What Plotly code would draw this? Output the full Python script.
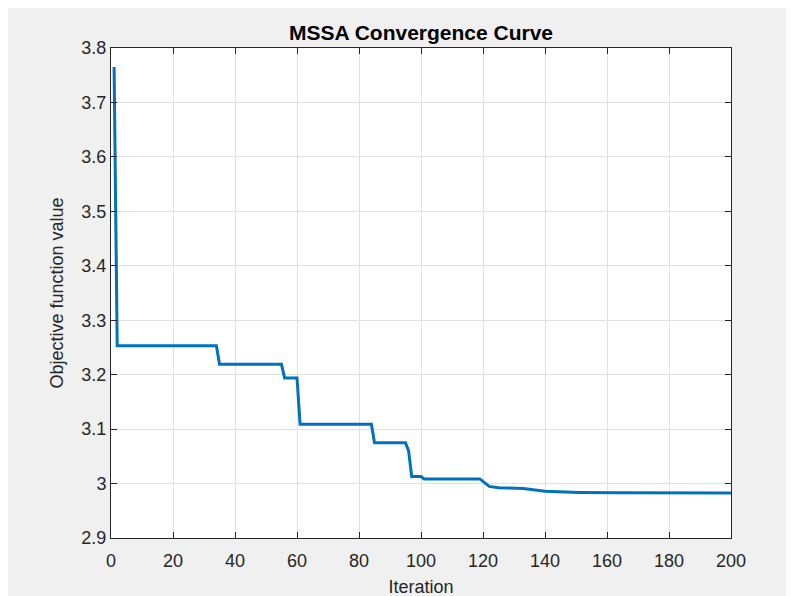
import plotly.graph_objects as go

# Change points of the convergence curve (iteration, best objective value)
iterations = [1, 2, 34, 35, 55, 56, 60, 61, 84, 85, 95, 96, 97, 100, 101, 119,
              122, 125, 133, 136, 140, 151, 165, 200]
values = [3.765, 3.253, 3.253, 3.219, 3.219, 3.194, 3.194, 3.109, 3.109, 3.075,
          3.075, 3.060, 3.013, 3.013, 3.0085, 3.0085,
          2.9947, 2.9925, 2.9907, 2.9885, 2.9858, 2.9838, 2.9830, 2.9828]

x_ticks = [0, 20, 40, 60, 80, 100, 120, 140, 160, 180, 200]
y_ticks = [2.9, 3.0, 3.1, 3.2, 3.3, 3.4, 3.5, 3.6, 3.7, 3.8]
y_tick_text = ["2.9", "3", "3.1", "3.2", "3.3", "3.4", "3.5", "3.6", "3.7", "3.8"]

title_text = "MSSA Convergence Curve"
x_label = "Iteration"
y_label = "Objective function value"

FONT = "Liberation Sans, Arial, Helvetica, sans-serif"
AX = "#262626"
GRID = "#e0e0e0"

L, R, T, B = 103, 71, 40, 66
W, H = 794, 596
pw, ph = W - L - R, H - T - B

fig = go.Figure()
fig.add_trace(go.Scatter(x=iterations, y=values, mode="lines",
                         line=dict(color="#0072BD", width=3),
                         showlegend=False, hoverinfo="skip"))

axis_common = dict(showline=True, linecolor=AX, linewidth=1, mirror="ticks",
                   ticks="inside", ticklen=6, tickcolor=AX, tickwidth=1,
                   showgrid=True, gridcolor=GRID, gridwidth=1, zeroline=False,
                   tickfont=dict(family=FONT, size=18, color=AX))

fig.update_xaxes(range=[0, 200], tickvals=x_ticks, ticklabelstandoff=6, **axis_common,
                 title=dict(text=x_label, font=dict(family=FONT, size=18, color=AX), standoff=10))
fig.update_yaxes(range=[2.9, 3.8], tickvals=y_ticks, ticktext=y_tick_text, **axis_common,
                 title=dict(text=y_label, font=dict(family=FONT, size=18, color=AX), standoff=13))

fig.update_layout(
    width=W, height=H,
    margin=dict(l=L, r=R, t=T, b=B),
    paper_bgcolor="#f0f0f0", plot_bgcolor="white",
    title=dict(text="<b>" + title_text + "</b>", x=(L + pw / 2) / W, xanchor="center",
               y=1 - 25 / H, yanchor="middle",
               font=dict(family=FONT, size=21, color="black")),
)

fig.write_html("out.html")
